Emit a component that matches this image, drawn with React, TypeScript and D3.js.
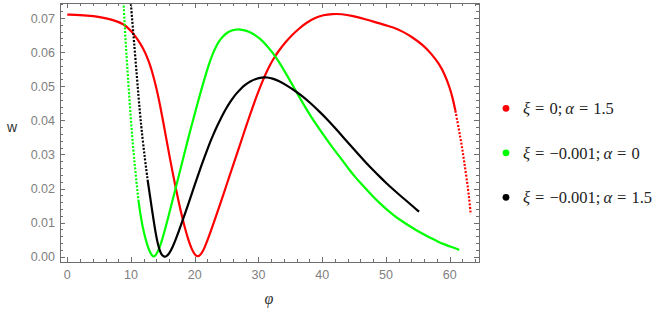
import React, { useRef, useEffect } from 'react';
import * as d3 from 'd3';

// phi values and w values, one pair of arrays per series
const phiRed = [0, 2.0, 4.1, 6.2, 7.7, 8.8, 9.6, 10.3, 11.1, 11.9, 12.5, 13.0, 13.5, 14.0, 14.5, 15.0, 15.5, 16.0, 16.5, 17.0, 17.5, 18.0, 18.5, 19.0, 19.5, 20.0, 20.45, 21.0, 21.5, 22.0, 22.5, 23.0, 23.5, 24.0, 24.5, 25.0, 25.5, 26.0, 26.5, 27.0, 27.5, 28.0, 28.5, 29.0, 29.5, 30.0, 30.6, 31.2, 31.8, 32.5, 33.3, 34.2, 35.2, 36.3, 37.5, 38.8, 40.2, 41.6, 43.0, 44.8, 46.9, 49.0, 51.1, 52.7, 54.2, 55.8, 57.1, 58.4, 59.2, 60.0, 60.5, 60.9, 61.3, 61.7, 62.0, 62.3, 62.6, 62.9, 63.1, 63.3];
const wRed = [0.0710, 0.0709, 0.0706, 0.0699, 0.0691, 0.0682, 0.0670, 0.0656, 0.0636, 0.0611, 0.0587, 0.0562, 0.0530, 0.0494, 0.0450, 0.0401, 0.0350, 0.0299, 0.0250, 0.0203, 0.0159, 0.0118, 0.0081, 0.0049, 0.0023, 0.0006, -0.0001, 0.0007, 0.0024, 0.0048, 0.0074, 0.0101, 0.0128, 0.0155, 0.0183, 0.0211, 0.0239, 0.0267, 0.0295, 0.0323, 0.0351, 0.0379, 0.0407, 0.0434, 0.0460, 0.0485, 0.0513, 0.0539, 0.0562, 0.0585, 0.0607, 0.0628, 0.0649, 0.0668, 0.0686, 0.0700, 0.0709, 0.0712, 0.0712, 0.0706, 0.0696, 0.0684, 0.0673, 0.0660, 0.0643, 0.0621, 0.0596, 0.0564, 0.0535, 0.0497, 0.0463, 0.0428, 0.0388, 0.0347, 0.0313, 0.0276, 0.0237, 0.0196, 0.0163, 0.0125];

const phiGreen = [8.6, 8.82, 9.04, 9.34, 9.66, 9.98, 10.36, 10.74, 11.16, 11.6, 12.1, 12.6, 13.0, 13.45, 13.9, 14.3, 14.8, 15.3, 15.8, 16.3, 16.8, 17.3, 17.8, 18.3, 18.8, 19.3, 19.8, 20.3, 20.8, 21.3, 21.8, 22.3, 22.8, 23.3, 23.8, 24.4, 25.0, 25.6, 26.3, 27.1, 28.1, 29.2, 30.2, 31.2, 32.2, 33.2, 34.2, 35.2, 36.2, 37.2, 38.2, 39.2, 40.2, 41.2, 42.2, 43.2, 44.2, 45.2, 46.2, 47.2, 48.2, 49.2, 50.2, 51.2, 52.2, 53.2, 54.2, 55.2, 56.2, 57.2, 58.2, 59.2, 60.2, 61.0, 61.5];
const wGreen = [0.0820, 0.0753, 0.0665, 0.0577, 0.0489, 0.0401, 0.0313, 0.0240, 0.0166, 0.0108, 0.0064, 0.0031, 0.0012, -0.0002, 0.0004, 0.0018, 0.0044, 0.0077, 0.0113, 0.0149, 0.0186, 0.0223, 0.0260, 0.0297, 0.0334, 0.0370, 0.0405, 0.0440, 0.0474, 0.0507, 0.0539, 0.0568, 0.0594, 0.0615, 0.0632, 0.0646, 0.0656, 0.0662, 0.0666, 0.0667, 0.0663, 0.0654, 0.0640, 0.0622, 0.0599, 0.0572, 0.0541, 0.0508, 0.0475, 0.0443, 0.0412, 0.0384, 0.0357, 0.0331, 0.0306, 0.0282, 0.0256, 0.0233, 0.0212, 0.0192, 0.0172, 0.0154, 0.0137, 0.0122, 0.0108, 0.0096, 0.0084, 0.0073, 0.0063, 0.0053, 0.0044, 0.0036, 0.0029, 0.0024, 0.0020];

const phiBlack = [9.85, 10.1, 10.45, 10.97, 11.4, 11.8, 12.2, 12.6, 13.0, 13.3, 13.6, 13.9, 14.2, 14.5, 14.8, 15.1, 15.5, 16.0, 16.5, 17.0, 17.5, 18.0, 18.5, 19.0, 19.5, 20.0, 20.5, 21.0, 21.5, 22.0, 22.5, 23.0, 23.5, 24.0, 24.5, 25.0, 25.5, 26.0, 26.6, 27.2, 27.9, 28.7, 29.6, 30.5, 31.4, 32.2, 33.1, 34.4, 35.7, 37.0, 38.3, 39.6, 40.9, 42.2, 43.5, 44.8, 45.9, 46.9, 48.0, 49.0, 50.1, 51.1, 52.2, 53.2, 54.2, 55.2];
const wBlack = [0.0772, 0.0714, 0.0636, 0.0518, 0.0420, 0.0348, 0.0284, 0.0226, 0.0176, 0.0137, 0.0100, 0.0066, 0.0038, 0.0018, 0.0006, 0.0001, -0.0001, 0.0009, 0.0027, 0.0050, 0.0075, 0.0101, 0.0128, 0.0155, 0.0183, 0.0211, 0.0238, 0.0265, 0.0291, 0.0316, 0.0340, 0.0362, 0.0383, 0.0402, 0.0420, 0.0437, 0.0452, 0.0466, 0.0480, 0.0492, 0.0504, 0.0514, 0.0522, 0.0526, 0.0526, 0.0523, 0.0516, 0.0503, 0.0487, 0.0469, 0.0448, 0.0425, 0.0401, 0.0374, 0.0346, 0.0319, 0.0296, 0.0275, 0.0254, 0.0235, 0.0215, 0.0198, 0.0180, 0.0164, 0.0148, 0.0132];

const xTicks = [0, 10, 20, 30, 40, 50, 60];
const yTicks = [0, 0.01, 0.02, 0.03, 0.04, 0.05, 0.06, 0.07];

const legendXi = ['0', '\u22120.001', '\u22120.001'];
const legendAlpha = ['1.5', '0', '1.5'];

type Pt = { x: number; y: number };

const App = () => {
  const svgRef = useRef<SVGSVGElement>(null);

  useEffect(() => {
    const width = 668;
    const height = 313;
    const left = 60, right = 479, top = 3, bottom = 262;

    const svg = d3.select(svgRef.current);
    svg.selectAll('*').remove();
    svg.attr('width', width).attr('height', height).style('background', '#fff');

    const xScale = d3.scaleLinear().domain([-1.14, 64.6]).range([left, right]);
    const yScale = d3.scaleLinear().domain([-0.00155, 0.0744]).range([bottom, top]);

    const frameColor = '#6e6e6e';
    const labelColor = '#808080';

    svg.append('defs').append('clipPath').attr('id', 'plot-clip')
      .append('rect')
      .attr('x', left).attr('y', top)
      .attr('width', right - left).attr('height', bottom - top);

    // curves: steep parts of the original were sampled sparsely, so they look dotted
    const series = [
      { phi: phiRed, w: wRed, color: '#ff0000', sparse: (d: Pt) => d.x >= 61.2 },
      { phi: phiGreen, w: wGreen, color: '#00ff00', sparse: (d: Pt) => d.x < 10.8 },
      { phi: phiBlack, w: wBlack, color: '#000000', sparse: (d: Pt) => d.x < 12.3 },
    ];

    const line = d3.line<Pt>()
      .x(d => xScale(d.x))
      .y(d => yScale(d.y))
      .curve(d3.curveBasis);

    const plot = svg.append('g').attr('clip-path', 'url(#plot-clip)');

    series.forEach(s => {
      const pts: Pt[] = s.phi.map((p, i) => ({ x: p, y: s.w[i] }));
      const dense: Pt[] = [];
      const sparse: Pt[] = [];
      pts.forEach(d => {
        if (s.sparse(d)) sparse.push(d);
        else dense.push(d);
      });
      // join the two parts so there is no gap
      if (sparse.length && dense.length) {
        if (sparse[0].x < dense[0].x) sparse.push(dense[0]);
        else sparse.unshift(dense[dense.length - 1]);
      }
      plot.append('path')
        .datum(dense)
        .attr('fill', 'none')
        .attr('stroke', s.color)
        .attr('stroke-width', 2.2)
        .attr('d', line);
      if (sparse.length) {
        plot.append('path')
          .datum(sparse)
          .attr('fill', 'none')
          .attr('stroke', s.color)
          .attr('stroke-width', 2.2)
          .attr('stroke-dasharray', '2,1.6')
          .attr('d', line);
      }
    });

    // frame with inward ticks on every side
    const frame = svg.append('g').attr('stroke', frameColor).attr('stroke-width', 1);
    frame.append('rect')
      .attr('x', left + 0.5).attr('y', top + 0.5)
      .attr('width', right - left).attr('height', bottom - top)
      .attr('fill', 'none');

    const xMinor = d3.range(0, 65, 2);
    xMinor.forEach(v => {
      const len = v % 10 === 0 ? 5 : 3;
      const px = Math.round(xScale(v)) + 0.5;
      frame.append('line').attr('x1', px).attr('x2', px).attr('y1', bottom).attr('y2', bottom - len);
      frame.append('line').attr('x1', px).attr('x2', px).attr('y1', top).attr('y2', top + len);
    });

    const yMinor = d3.range(0, 38).map(i => i * 0.002);
    yMinor.forEach((v, i) => {
      const len = i % 5 === 0 ? 5 : 3;
      const py = Math.round(yScale(v)) + 0.5;
      frame.append('line').attr('x1', left).attr('x2', left + len).attr('y1', py).attr('y2', py);
      frame.append('line').attr('x1', right).attr('x2', right - len).attr('y1', py).attr('y2', py);
    });

    // tick labels
    svg.append('g')
      .selectAll('text')
      .data(xTicks)
      .join('text')
      .attr('x', d => xScale(d))
      .attr('y', 278.5)
      .attr('text-anchor', 'middle')
      .attr('font-family', '"Liberation Sans", Arial, sans-serif')
      .attr('font-size', 12.5)
      .attr('fill', labelColor)
      .text(d => d3.format('d')(d));

    svg.append('g')
      .selectAll('text')
      .data(yTicks)
      .join('text')
      .attr('x', 55)
      .attr('y', d => yScale(d) + 4.5)
      .attr('text-anchor', 'end')
      .attr('font-family', '"Liberation Sans", Arial, sans-serif')
      .attr('font-size', 12.5)
      .attr('fill', labelColor)
      .text(d => d3.format('.2f')(d));

    // axis labels
    svg.append('text')
      .attr('x', 7).attr('y', 132)
      .attr('font-family', '"Liberation Sans", Arial, sans-serif')
      .attr('font-size', 14)
      .attr('fill', '#333')
      .text('w');

    svg.append('text')
      .attr('x', 269).attr('y', 304)
      .attr('text-anchor', 'middle')
      .attr('font-family', '"Liberation Serif", serif')
      .attr('font-style', 'italic')
      .attr('font-size', 16)
      .attr('fill', '#333')
      .text('\u03c6');

    // legend
    const legend = svg.append('g');
    series.forEach((s, i) => {
      const cy = 108.3 + i * 44.5;
      legend.append('circle')
        .attr('cx', 506).attr('cy', cy).attr('r', 3.4)
        .attr('fill', s.color);
      const t = legend.append('text')
        .attr('x', 523).attr('y', cy + 6)
        .attr('font-family', '"Liberation Serif", serif')
        .attr('font-size', 16.5)
        .attr('fill', '#222');
      t.append('tspan').attr('font-style', 'italic').text('\u03be');
      t.append('tspan').attr('dx', 5).text('=');
      t.append('tspan').attr('dx', 5).text(legendXi[i] + ';');
      t.append('tspan').attr('dx', 3).attr('font-style', 'italic').text('\u03b1');
      t.append('tspan').attr('dx', 5).text('=');
      t.append('tspan').attr('dx', 5).text(legendAlpha[i]);
    });
  }, []);

  return (
    <div style={{ position: 'absolute', left: 0, top: 0 }}>
      <svg ref={svgRef}></svg>
    </div>
  );
};

export default App;
